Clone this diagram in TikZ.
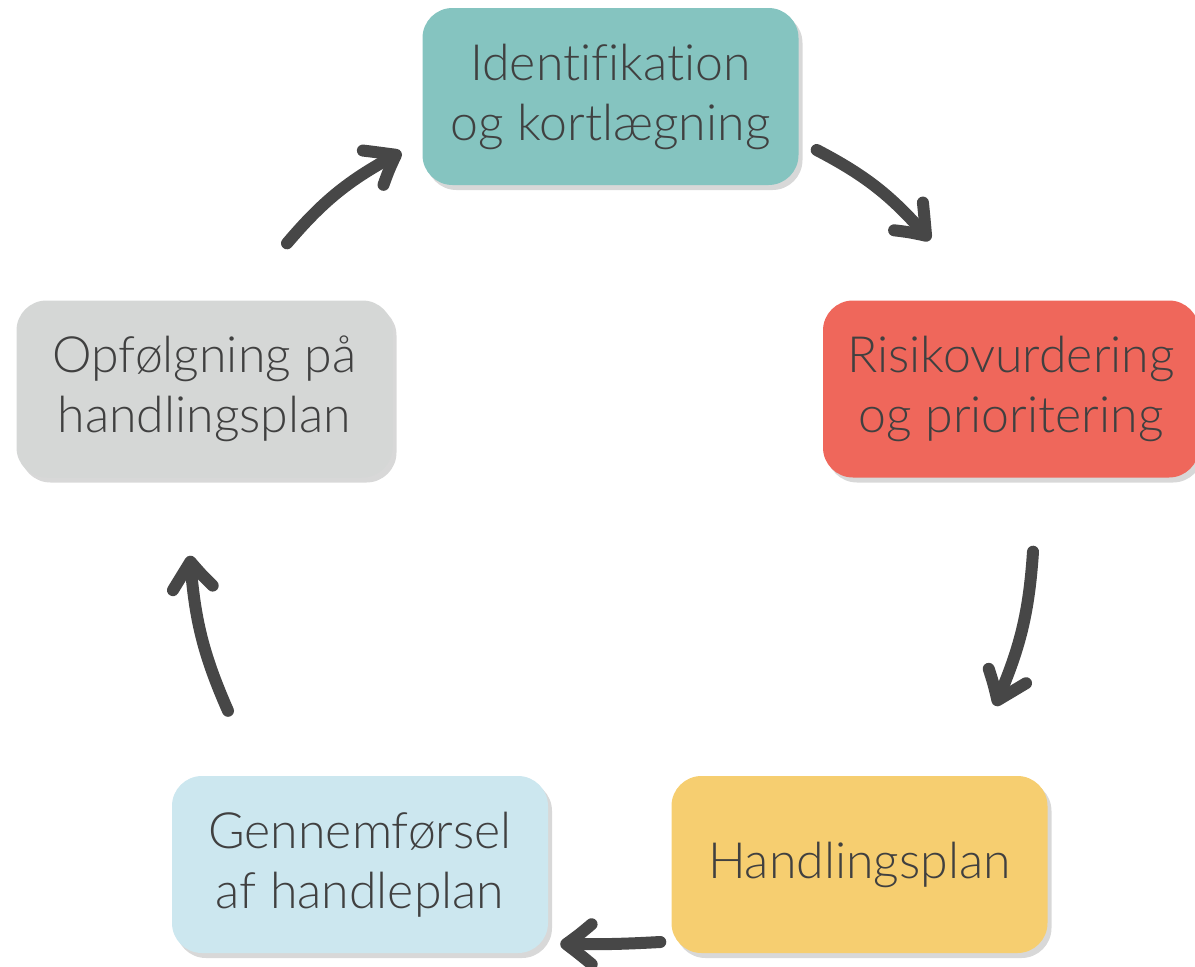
\documentclass[tikz,border=0pt]{standalone}
\usepackage{fontspec}
\setmainfont{Lato Light}[Ligatures=NoCommon]
\usetikzlibrary{arrows.meta,shadows,bending}
\definecolor{txt}{HTML}{404040}
\definecolor{arrc}{HTML}{474747}
\definecolor{cteal}{HTML}{85C4C0}
\definecolor{cred}{HTML}{EF675B}
\definecolor{cgray}{HTML}{D5D7D6}
\definecolor{cyel}{HTML}{F6CE70}
\definecolor{cblue}{HTML}{CCE7EF}
\begin{document}
\begin{tikzpicture}[x=1pt,y=-1pt,
  box/.style={rounded corners=30pt, minimum width=376pt, minimum height=177pt, inner sep=0pt,
    align=center, text=txt, font=\fontsize{50}{60}\selectfont,
    drop shadow={shadow xshift=4pt, shadow yshift=-5pt, opacity=0.22, fill=black!70}},
  arr/.style={draw=arrc, line width=12pt, line cap=round,
    -{Straight Barb[length=28pt, width=40pt, round, bend]}}]
\useasboundingbox (0,0) rectangle (1195,967);
\node[box, fill=cteal] (ident) at (610.5,96.5) {Identifikation\\og kortlægning};
\node[box, fill=cred] (risk) at (1011,389) {Risikovurdering\\og prioritering};
\node[box, fill=cgray] (opf) at (204.5,389) {Opfølgning på\\handlingsplan};
\node[box, fill=cyel] (handl) at (859.5,864.5) {Handlingsplan};
\node[box, fill=cblue] (genn) at (360,864.5) {Gennemførsel\\af handleplan};
\draw[arr] ([xshift=82.5pt,yshift=57pt]opf.north) to[bend left=11] ([xshift=-21pt,yshift=-55.5pt]ident.west);
\draw[arr] ([xshift=18pt,yshift=-53.5pt]ident.east) to[bend left=11] ([xshift=-81pt,yshift=60pt]risk.north);
\draw[arr] ([xshift=22pt,yshift=-74pt]risk.south) to[bend left=10] ([xshift=135.5pt,yshift=70pt]handl.north);
\draw[arr] ([xshift=-11pt,yshift=-77.5pt]handl.west) to[bend left=2] ([xshift=12pt,yshift=-79.5pt]genn.east);
\draw[arr] ([xshift=-132pt,yshift=65pt]genn.north) to[bend left=10] ([xshift=-14.5pt,yshift=-78pt]opf.south);
\end{tikzpicture}
\end{document}
